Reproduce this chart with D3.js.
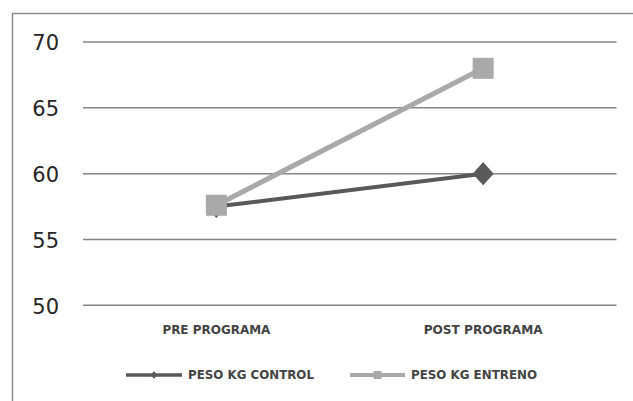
<!DOCTYPE html>
<html><head><meta charset="utf-8">
<script src="https://cdn.jsdelivr.net/npm/d3@7"></script>
<style>body{margin:0;background:#fff;} svg{display:block;}</style>
</head><body>
<script>
const categories = ["PRE PROGRAMA", "POST PROGRAMA"];
const controlValues = [57.5, 60.0];
const entrenoValues = [57.6, 68.0];
const seriesNames = ["PESO KG CONTROL", "PESO KG ENTRENO"];
const yTicks = [50, 55, 60, 65, 70];

const W = 633, H = 401;
const svg = d3.select("body").append("svg").attr("width", W).attr("height", H);

// outer chart border (extends beyond the view on right/bottom)
svg.append("rect").attr("x", 12.5).attr("y", 13.5).attr("width", 700).attr("height", 500)
  .attr("fill", "none").attr("stroke", "#8c8c8c").attr("stroke-width", 1.5);

const x = d3.scaleBand().domain(categories).range([83, 616.5]);
const y = d3.scaleLinear().domain([50, 70]).range([305.3, 42]);

// gridlines
svg.append("g").selectAll("line").data(yTicks).join("line")
  .attr("x1", 83).attr("x2", 616.5)
  .attr("y1", d => y(d)).attr("y2", d => y(d))
  .attr("stroke", "#858585").attr("stroke-width", 1.5);

// y axis labels
const yAxis = d3.axisLeft(y).tickValues(yTicks).tickSize(0).tickPadding(0);
const gy = svg.append("g").attr("transform", "translate(59,0)").call(yAxis);
gy.select(".domain").remove();
gy.selectAll("text").attr("font-family", "DejaVu Sans").attr("font-size", 21)
  .attr("fill", "#262626").attr("dy", "0.38em");

// x axis labels
const xAxis = d3.axisBottom(x).tickSize(0).tickPadding(0);
const gx = svg.append("g").attr("transform", "translate(0,329.5)").call(xAxis);
gx.select(".domain").remove();
gx.selectAll("text").attr("font-family", "DejaVu Sans").attr("font-size", 11.5)
  .attr("font-weight", "bold").attr("fill", "#444").attr("dy", "0.36em")
  .attr("textLength", (d, i) => i === 0 ? 108 : 119).attr("lengthAdjust", "spacingAndGlyphs");

const cx = d => x(d) + x.bandwidth() / 2;
const line = d3.line().x(d => cx(d.c)).y(d => y(d.v));

const ctrl = categories.map((c, i) => ({c, v: controlValues[i]}));
const entr = categories.map((c, i) => ({c, v: entrenoValues[i]}));

const dark = "#595959", light = "#a9a9a9";

svg.append("path").datum(ctrl).attr("d", line).attr("fill", "none")
  .attr("stroke", dark).attr("stroke-width", 4);
const diamond = (s) => `M0,${-s*1.1}L${s},0L0,${s*1.1}L${-s},0Z`;
svg.append("g").selectAll("path").data(ctrl).join("path")
  .attr("transform", d => `translate(${cx(d.c)},${y(d.v)})`)
  .attr("d", diamond(10.5)).attr("fill", dark);

svg.append("path").datum(entr).attr("d", line).attr("fill", "none")
  .attr("stroke", light).attr("stroke-width", 5);
svg.append("g").selectAll("rect").data(entr).join("rect")
  .attr("x", d => cx(d.c) - 10.5).attr("y", d => y(d.v) - 10.5)
  .attr("width", 21).attr("height", 21).attr("fill", light);

// legend
const legend = [
  {name: seriesNames[0], x1: 126, x2: 182, color: dark, marker: "diamond", tx: 188, tl: 126},
  {name: seriesNames[1], x1: 350, x2: 405, color: light, marker: "square", tx: 411, tl: 126}
];
const ly = 375;
const lg = svg.append("g").selectAll("g").data(legend).join("g");
lg.append("line").attr("x1", d => d.x1).attr("x2", d => d.x2).attr("y1", ly).attr("y2", ly)
  .attr("stroke", d => d.color).attr("stroke-width", d => d.marker === "square" ? 4 : 3.5);
lg.filter(d => d.marker === "diamond").append("path")
  .attr("transform", d => `translate(${(d.x1 + d.x2) / 2},${ly})`)
  .attr("d", diamond(3.5)).attr("fill", dark);
lg.filter(d => d.marker === "square").append("rect")
  .attr("x", d => (d.x1 + d.x2) / 2 - 4).attr("y", ly - 4).attr("width", 8).attr("height", 8)
  .attr("fill", light);
lg.append("text").attr("x", d => d.tx).attr("y", ly).attr("dy", "0.36em")
  .attr("font-family", "DejaVu Sans").attr("font-size", 11.5).attr("font-weight", "bold")
  .attr("fill", "#444").attr("textLength", d => d.tl).attr("lengthAdjust", "spacingAndGlyphs")
  .text(d => d.name);
</script>
</body></html>
